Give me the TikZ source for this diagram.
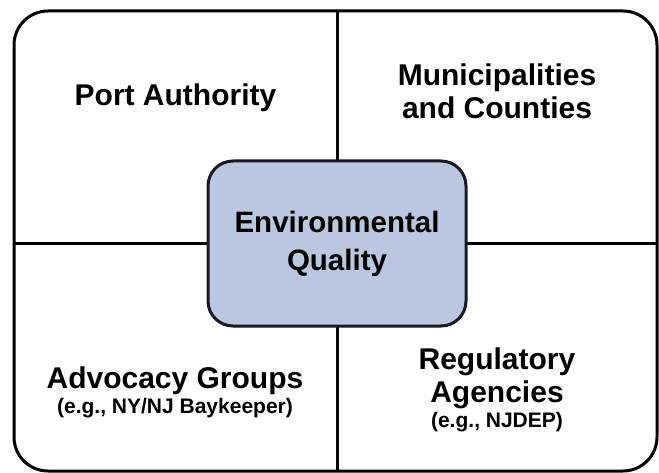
\documentclass[tikz,border=0pt]{standalone}
\usepackage{fontspec}
\setmainfont{Liberation Sans}
\definecolor{boxfill}{RGB}{185,199,224}
\definecolor{boxline}{RGB}{25,25,35}

\begin{document}
\begin{tikzpicture}[x=1pt,y=-1pt,
        divider/.style={line width=3pt,draw=black},
        lbl/.style={font=\bfseries\fontsize{30}{33}\selectfont,align=center,inner sep=0pt},
        sublbl/.style={font=\bfseries\fontsize{21}{22}\selectfont,inner sep=0pt},
        qualitybox/.style={draw=boxline,fill=boxfill,line width=3pt,rounded corners=25pt,
            minimum width=258pt,minimum height=165pt,align=center,
            font=\bfseries\fontsize{29.5}{38}\selectfont}]

        \useasboundingbox (0,0) rectangle (659,473);
        \draw[divider,rounded corners=34pt] (14,11) rectangle (657,471);

        \coordinate (top) at (337,11);
        \coordinate (bot) at (337,471);
        \coordinate (lft) at (14,244);
        \coordinate (rgt) at (657,244);
        \draw[divider] (top) -- (bot);
        \draw[divider] (lft) -- (rgt);

        \node[qualitybox] (eq) at (337,243.5) {Environmental\\Quality};

        \node[lbl,anchor=base] (pa) at (175.5,106) {Port Authority};
        \node[lbl] (mc) at (497,91.5) {Municipalities\\and Counties};
        \node[lbl,anchor=base] (ag) at (175,388) {Advocacy Groups};
        \node[sublbl,anchor=base] (agx) at (175,413) {(e.g., NY/NJ Baykeeper)};
        \node[lbl] (ra) at (497,378.5) {Regulatory\\Agencies};
        \node[sublbl,anchor=base] (rax) at (497,427) {(e.g., NJDEP)};

\end{tikzpicture}
\end{document}
